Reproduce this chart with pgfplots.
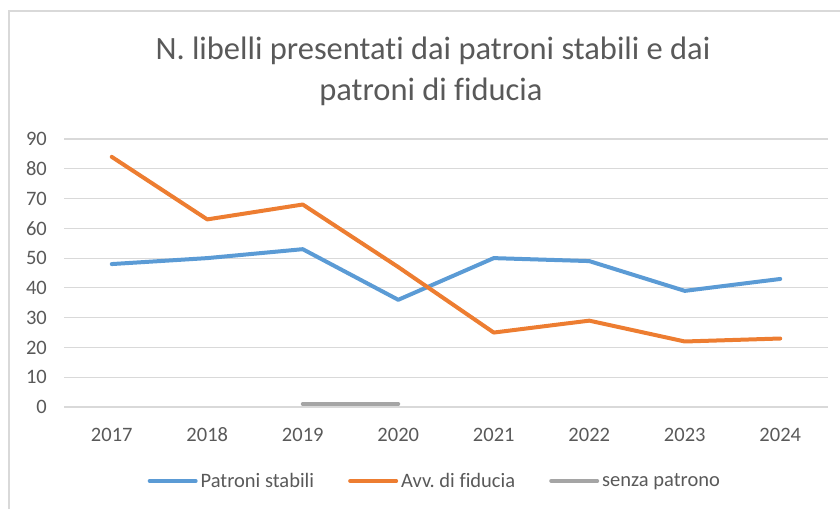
\documentclass[border=0pt]{standalone}
\usepackage{pgfplots}
\pgfplotsset{compat=1.18}
\usepackage{fontspec}
\setmainfont{Carlito}[Ligatures=NoCommon]
\frenchspacing
\definecolor{cblue}{HTML}{5B9BD5}
\definecolor{corange}{HTML}{ED7D31}
\definecolor{cgray}{HTML}{A5A5A5}
\definecolor{ctext}{HTML}{595959}
\definecolor{cgrid}{HTML}{D9D9D9}
\begin{document}
\begin{tikzpicture}[x=1pt,y=1pt]
\path[use as bounding box] (0,0) rectangle (840,509);
\draw[cgrid, line width=1.5pt] (9,0) -- (9,498) -- (840,498);
\node[anchor=base, text=ctext, font=\fontsize{32.5}{32.5}\selectfont] at (433,449.5) {N. libelli presentati dai patroni stabili e dai};
\node[anchor=base, text=ctext, font=\fontsize{32.5}{32.5}\selectfont] at (431,408) {patroni di fiducia};
\begin{axis}[
  at={(64pt,102pt)}, anchor=south west,
  scale only axis, width=764pt, height=268pt,
  xmin=-0.5, xmax=7.5, ymin=0, ymax=90,
  xtick={0,...,7}, xticklabels={2017,2018,2019,2020,2021,2022,2023,2024},
  ytick={0,10,...,90},
  /pgf/number format/assume math mode=true,
  axis line style={draw=none},
  ymajorgrids, grid style={cgrid, line width=1.2pt},
  major tick length=0pt,
  tick label style={font=\fontsize{20.5}{20.5}\selectfont, text=ctext, inner sep=0pt},
  xticklabel style={text height=14pt, text depth=0pt},
  yticklabel shift=17pt,
  xticklabel shift=20pt,
  legend columns=3,
  legend style={draw=none, fill=none, at={(0.486,-0.276)}, anchor=center,
    font=\fontsize{20.5}{20.5}\selectfont, text=ctext,
    /tikz/every even column/.append style={column sep=31pt},
    nodes={inner xsep=3pt, inner ysep=0pt}},
  legend image code/.code={\draw[#1, line width=4pt] (0pt,0pt) -- (46pt,0pt);},
  every axis plot/.append style={line width=4pt, line join=round, line cap=round},
]
\addplot[cblue, mark=none] coordinates {(0,48) (1,50) (2,53) (3,36) (4,50) (5,49) (6,39) (7,43)};
\addlegendentry{Patroni stabili}
\addplot[corange, mark=none] coordinates {(0,84) (1,63) (2,68) (3,47) (4,25) (5,29) (6,22) (7,23)};
\addlegendentry{Avv. di fiducia}
\addplot[cgray, mark=none] coordinates {(2,1) (3,1)};
\addlegendentry{senza patrono}
\end{axis}
\end{tikzpicture}
\end{document}
